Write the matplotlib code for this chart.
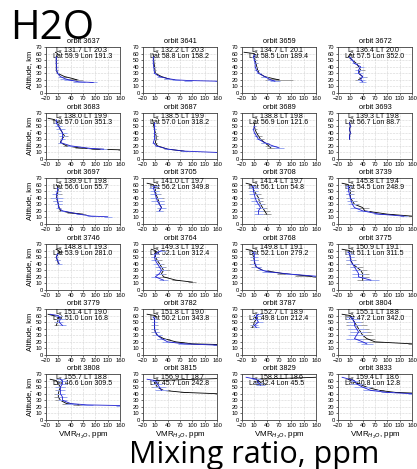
import numpy as np
import matplotlib.pyplot as plt

orbits = [3637, 3641, 3659, 3672,
          3683, 3687, 3689, 3693,
          3697, 3705, 3708, 3739,
          3746, 3764, 3768, 3775,
          3779, 3782, 3787, 3804,
          3808, 3815, 3829, 3833]
ls = [131.7, 132.2, 134.7, 136.4, 138.0, 138.5, 138.8, 139.3,
      139.9, 141.0, 141.4, 145.8, 148.8, 149.3, 149.8, 150.9,
      151.4, 151.8, 152.7, 155.1, 155.7, 156.9, 158.8, 159.4]
lt = [20.3, 20.3, 20.1, 20.0, 19.9, 19.9, 19.8, 19.8,
      19.8, 19.7, 19.7, 19.4, 19.3, 19.2, 19.1, 19.1,
      19.0, 19.0, 18.9, 18.8, 18.8, 18.7, 18.6, 18.6]
lat = [59.9, 58.8, 58.5, 57.5, 57.0, 57.0, 56.9, 56.7,
       56.6, 56.2, 56.1, 54.5, 53.9, 52.1, 52.1, 51.1,
       51.0, 50.2, 49.8, 47.2, 46.6, 45.7, 42.4, 40.8]
lon = [191.3, 158.2, 189.4, 352.0, 351.3, 318.2, 121.6, 88.7,
       55.7, 349.8, 54.8, 248.9, 281.0, 312.4, 279.2, 311.5,
       16.8, 343.8, 212.4, 342.0, 309.5, 242.8, 45.5, 12.8]

# black retrieval (grey error bars)
black_alt = [
    [62, 60, 55, 50, 45, 40, 35, 30, 25, 22, 20],
    [60, 55, 50, 45, 40, 35, 30, 25, 22, 21],
    [62, 60, 55, 50, 45, 40, 35, 30, 25, 22, 20],
    [60, 55, 50, 45, 40, 35, 30, 25, 20],
    [62, 60, 55, 50, 45, 40, 35, 30, 25, 20, 17, 15, 14],
    [60, 55, 50, 45, 40, 35, 30, 25, 20, 15, 12],
    [55, 50, 45, 40, 35, 30, 25, 20, 17],
    [55, 50, 45, 40, 35, 30],
    [60, 55, 50, 45, 40, 35, 30, 25, 20, 17, 15],
    [62, 60, 55, 50, 45, 40, 35, 30, 25, 20],
    [62, 60, 55, 50, 45, 40, 35, 30, 25, 20, 15],
    [62, 60, 55, 50, 45, 40, 35, 30, 25, 20, 15, 12],
    [62, 58, 55, 50, 45, 40],
    [62, 60, 55, 50, 45, 40, 35, 30, 25, 20, 15, 12],
    [62, 60, 55, 50, 45, 40, 35, 30, 25, 22, 20],
    [62, 60, 55, 50, 45, 40, 35, 30, 25, 20, 15],
    [62, 58, 55, 50, 45],
    [62, 60, 55, 50, 45, 40, 35, 30, 25, 20, 17, 16],
    [60, 55, 50, 45, 42],
    [62, 60, 55, 50, 45, 40, 35, 30, 25, 20, 17],
    [62, 60, 55, 50, 45, 40, 35, 30, 25, 23],
    [63, 60, 55, 50, 45, 42, 40],
    [65, 62, 60, 57, 55],
    [62, 60, 55, 50, 45, 42, 41],
]
black_vmr = [
    [3, 8, 5, 5, 5, 5, 5, 8, 25, 45, 55],
    [4, 6, 6, 7, 8, 9, 10, 25, 40, 45],
    [-15, 10, 10, 12, 14, 16, 18, 22, 35, 55, 70],
    [10, 5, 15, 25, 30, 35, 30, 40, 30],
    [-15, 0, 10, 12, 15, 20, 25, 18, 15, 30, 60, 100, 160],
    [3, 5, 6, 8, 10, 12, 12, 10, 15, 40, 80],
    [10, 10, 12, 15, 20, 25, 35, 45, 50],
    [8, 10, 8, 10, 8, 8],
    [5, 10, 9, 8, 5, 8, 10, 12, 15, 40, 70],
    [-10, 5, 10, 10, 12, 15, 18, 20, 25, 20],
    [-10, 3, 5, 10, 15, 20, 22, 25, 30, 35, 40],
    [-10, 5, 8, 10, 10, 10, 15, 20, 40, 45, 100, 160],
    [5, 15, 10, 5, 8, 10],
    [0, 10, 10, 10, 15, 20, 25, 30, 25, 30, 60, 100],
    [-10, 5, 6, 8, 10, 10, 15, 30, 80, 130, 160],
    [-10, 8, 8, 10, 12, 15, 25, 35, 40, 40, 40],
    [-15, 10, 10, 8, 5],
    [-10, 10, 8, 8, 8, 8, 10, 15, 30, 60, 100, 160],
    [10, 15, 10, 8, 5],
    [-10, 10, 15, 20, 25, 30, 35, 40, 50, 70, 160],
    [-10, 5, 10, 15, 12, 10, 10, 15, 30, 60],
    [160, 5, 10, 15, 30, 80, 160],
    [160, 15, 20, 25, 25],
    [5, 10, 30, 50, 80, 120, 160],
]
black_err = [
    [2, 3, 3, 3, 3, 3, 3, 4, 6, 12, 15],
    [2, 3, 3, 3, 3, 3, 3, 5, 8, 10],
    [0, 4, 4, 4, 4, 4, 4, 5, 8, 15, 35],
    [3, 4, 5, 8, 8, 10, 8, 10, 8],
    [0, 5, 5, 5, 8, 8, 8, 5, 5, 8, 10, 10, 5],
    [3, 3, 3, 4, 5, 5, 5, 5, 5, 8, 10],
    [3, 4, 5, 6, 8, 8, 10, 10, 10],
    [2, 2, 2, 2, 2, 2],
    [4, 5, 8, 10, 15, 12, 8, 5, 5, 8, 8],
    [0, 8, 8, 10, 12, 15, 12, 10, 8, 8],
    [0, 8, 10, 10, 12, 10, 10, 10, 12, 12, 10],
    [0, 8, 8, 8, 10, 10, 10, 12, 15, 15, 15, 10],
    [3, 6, 6, 5, 5, 6],
    [0, 6, 8, 10, 10, 12, 12, 15, 12, 12, 10, 10],
    [0, 5, 6, 8, 10, 12, 12, 15, 15, 20, 10],
    [0, 6, 8, 10, 12, 15, 15, 15, 15, 15, 15],
    [0, 6, 8, 8, 6],
    [0, 5, 6, 6, 8, 8, 10, 12, 15, 20, 15, 10],
    [5, 10, 10, 8, 5],
    [0, 10, 15, 20, 25, 25, 25, 25, 20, 20, 10],
    [0, 8, 10, 10, 10, 10, 10, 12, 12, 15],
    [0, 8, 10, 15, 15, 10, 5],
    [0, 8, 10, 10, 10],
    [8, 12, 15, 15, 12, 10, 5],
]

# blue retrieval (light blue error bars)
blue_alt = [
    [55, 50, 45, 40, 35, 30, 25, 22, 20, 17, 16],
    [55, 50, 45, 40, 35, 30, 25, 22, 20, 19, 18],
    [58, 55, 50, 45, 40, 35, 30, 25, 20, 18],
    [55, 50, 45, 40, 35, 30, 25, 20, 17],
    [60, 55, 50, 45, 40, 35, 30, 25, 20, 16, 15],
    [55, 50, 45, 40, 35, 30, 25, 20, 15, 12, 10],
    [50, 45, 40, 35, 30, 25, 20, 17],
    [55, 50, 45, 40, 35, 30],
    [55, 50, 45, 40, 35, 30, 25, 20, 15, 12, 11],
    [58, 55, 50, 45, 40, 35, 30, 25, 20],
    [58, 55, 50, 45, 40, 35, 30, 25, 20, 15],
    [58, 55, 50, 45, 40, 35, 30, 25, 20, 15, 12],
    [55, 50, 45, 40],
    [60, 55, 50, 45, 40, 35, 30, 25, 20, 15],
    [58, 55, 50, 45, 40, 35, 30, 28, 24, 21],
    [58, 55, 50, 45, 40, 35, 30, 25, 20, 15],
    [62, 60, 55, 50, 45],
    [58, 55, 50, 45, 40, 35, 30, 25, 20, 17, 15],
    [62, 60, 55, 50, 45, 42],
    [58, 55, 50, 45, 40, 35, 30, 25, 20, 17],
    [62, 60, 55, 50, 45, 40, 35, 30, 25, 23, 22],
    [62, 60, 55, 50, 45],
    [65, 62, 57, 53],
    [65, 60, 55, 50, 45, 42, 40],
]
blue_vmr = [
    [5, 5, 5, 6, 6, 8, 15, 25, 35, 60, 95],
    [5, 5, 5, 6, 7, 8, 20, 40, 60, 90, 160],
    [10, 8, 10, 12, 12, 15, 20, 35, 50, 60],
    [8, 15, 20, 35, 30, 30, 40, 35, 40],
    [5, 5, 10, 15, 20, 20, 20, 15, 40, 90, 120],
    [8, 8, 8, 8, 8, 8, 5, 12, 40, 80, 160],
    [10, 8, 10, 15, 20, 35, 55, 70],
    [8, 10, 8, 10, 8, 8],
    [8, 8, 5, 7, 8, 10, 10, 20, 60, 90, 130],
    [8, 5, 8, 10, 12, 15, 20, 25, 20],
    [5, 8, 8, 10, 12, 15, 20, 25, 20, 20],
    [5, 5, 6, 8, 10, 12, 15, 20, 40, 80, 140],
    [8, 5, 8, 12],
    [25, 10, 8, 10, 15, 20, 25, 20, 10, 30],
    [8, 10, 10, 10, 12, 15, 30, 40, 100, 160],
    [5, 8, 10, 10, 15, 20, 25, 30, 30, 60],
    [-10, 10, 15, 12, 20],
    [5, 8, 8, 8, 8, 10, 15, 25, 40, 80, 160],
    [20, 15, 15, 20, 10, 15],
    [10, 15, 20, 20, 25, 30, 25, 20, 40, 50],
    [15, 20, 20, 15, 15, 15, 20, 20, 40, 80, 160],
    [-10, 10, 15, 20, 25],
    [-10, 15, 20, 25],
    [-10, 20, 25, 40, 60, 100, 160],
]
blue_err = [
    [2, 2, 2, 2, 3, 4, 6, 10, 12, 15, 10],
    [2, 2, 2, 2, 3, 3, 5, 8, 10, 10, 5],
    [3, 3, 4, 4, 4, 5, 5, 8, 10, 12],
    [4, 5, 6, 8, 8, 10, 8, 10, 8],
    [4, 6, 8, 10, 12, 8, 6, 5, 8, 10, 8],
    [3, 3, 3, 3, 3, 3, 3, 4, 6, 8, 5],
    [3, 3, 4, 5, 6, 8, 10, 12],
    [2, 2, 2, 2, 2, 2],
    [4, 5, 10, 15, 12, 8, 5, 6, 8, 10, 10],
    [10, 10, 10, 12, 15, 15, 12, 10, 8],
    [8, 10, 10, 12, 12, 12, 10, 12, 12, 10],
    [8, 6, 6, 8, 8, 10, 10, 12, 15, 12, 10],
    [4, 4, 5, 6],
    [10, 8, 8, 10, 10, 10, 12, 12, 10, 10],
    [6, 6, 8, 8, 10, 10, 12, 12, 15, 10],
    [6, 8, 8, 10, 10, 12, 12, 15, 15, 20],
    [0, 8, 10, 10, 8],
    [4, 5, 5, 6, 6, 8, 10, 12, 15, 15, 10],
    [8, 10, 10, 12, 8, 6],
    [10, 15, 15, 15, 20, 20, 20, 20, 15, 15],
    [10, 12, 12, 12, 10, 10, 10, 12, 15, 15, 10],
    [0, 10, 12, 15, 15],
    [0, 10, 12, 12],
    [0, 12, 15, 20, 20, 15, 10],
]

xticks = [-20, 10, 40, 70, 100, 130, 160]
yticks = [0, 10, 20, 30, 40, 50, 60, 70]

W, H = 417, 469
col_left = [46, 143, 242, 338]
row_top = [47, 113, 178, 244, 309, 374]
ax_w, ax_h = 74, 46

plt.rcParams['font.family'] = ['Liberation Sans', 'DejaVu Sans']
fig = plt.figure(figsize=(W / 100, H / 100), dpi=100)

for i, orb in enumerate(orbits):
    r, c = divmod(i, 4)
    ax = fig.add_axes([col_left[c] / W, 1 - (row_top[r] + ax_h) / H,
                       ax_w / W, ax_h / H])
    ax.errorbar(black_vmr[i], black_alt[i], xerr=black_err[i], color='black',
                ecolor='#a0a0a0', lw=0.6, elinewidth=0.7, capsize=0, zorder=3)
    ax.errorbar(blue_vmr[i], blue_alt[i], xerr=blue_err[i], color='#1f1fd0',
                ecolor='#9aa8f0', lw=0.6, elinewidth=0.7, capsize=0, zorder=4)
    ax.set_xlim(-20, 160)
    ax.set_ylim(0, 70)
    ax.set_xticks(xticks)
    ax.set_yticks(yticks)
    ax.grid(True, ls=':', lw=0.4, color='#b0b0b0')
    ax.tick_params(labelsize=4.2, length=1.5, width=0.4, pad=1)
    for s in ax.spines.values():
        s.set_linewidth(0.6)
        s.set_color('#404040')
    ax.set_title(f'orbit {orb}', fontsize=5.3, pad=3)
    ax.text(2, 63.5, f'L$_s$ {ls[i]:.1f} LT {lt[i]:.1f}', fontsize=5,
            va='center')
    ax.text(-3, 56, f'Lat {lat[i]:.1f} Lon {lon[i]:.1f}', fontsize=5,
            va='center')
    if c == 0:
        ax.set_ylabel('Altitude, km', fontsize=5.3, labelpad=2)
    if r == 5:
        ax.set_xlabel('VMR$_{H_2O}$, ppm', fontsize=5.8, labelpad=1)

fig.text(10 / W, 1 - 39 / H, 'H2O', fontsize=29, family='Open Sans',
         ha='left', va='baseline')
fig.text(254 / W, 1 - 463 / H, 'Mixing ratio, ppm', fontsize=22,
         family='Open Sans', ha='center', va='baseline')

fig.savefig('out.png', dpi=100)
